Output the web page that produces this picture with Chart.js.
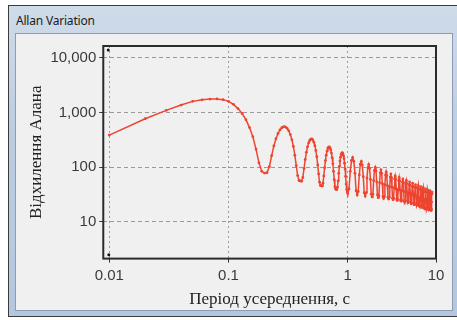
<!DOCTYPE html>
<html>
<head>
<meta charset="utf-8">
<script src="https://cdn.jsdelivr.net/npm/chart.js"></script>
<style>
  body { margin: 0; background: #fff; width: 457px; height: 320px; overflow: hidden; position: relative; }
  .win { position: absolute; left: 8px; top: 5px; width: 460px; height: 310px; border: 1px solid #3c3c3c;
         background: linear-gradient(180deg, #cfdbe9 0%, #bccde2 40%, #b4c7de 100%); }
  .caption { position: absolute; left: 16px; top: 12px; font: 12px "Noto Sans", sans-serif; color: #1b1b1b; letter-spacing: -0.2px; }
  .client { position: absolute; left: 15px; top: 33px; width: 436px; height: 276px; background: #f0f0f0; border: 1px solid #8c9db3; }
  #chart { position: absolute; left: 0; top: 0; }
</style>
</head>
<body>
<div class="win"></div>
<div class="caption">Allan Variation</div>
<div class="client"></div>
<canvas id="chart" width="457" height="320"></canvas>
<script>
  // період усереднення (c) -> відхилення Алана
  const tauFine = [
    0.01, 0.02, 0.03, 0.04, 0.05, 0.06, 0.07, 0.08, 0.09, 0.10,
    0.11, 0.12, 0.13, 0.14, 0.15, 0.16, 0.17, 0.18, 0.19, 0.20,
    0.21, 0.22, 0.23, 0.24, 0.25, 0.26, 0.27, 0.28, 0.29, 0.30,
    0.31, 0.32, 0.33, 0.34, 0.35, 0.36, 0.37, 0.38, 0.39, 0.40,
    0.41, 0.42, 0.43, 0.44, 0.45, 0.46, 0.47, 0.48, 0.49, 0.50,
    0.51, 0.52, 0.53, 0.54, 0.55, 0.56, 0.57, 0.58, 0.59, 0.60,
    0.61, 0.62, 0.63, 0.64, 0.65, 0.66, 0.67, 0.68, 0.69, 0.70,
    0.71, 0.72, 0.73, 0.74, 0.75, 0.76, 0.77, 0.78, 0.79, 0.80,
    0.81, 0.82, 0.83, 0.84, 0.85, 0.86, 0.87, 0.88, 0.89, 0.90,
    0.91, 0.92, 0.93, 0.94, 0.95, 0.96, 0.97, 0.98, 0.99, 1.00
  ];
  const devFine = [
    386, 770, 1095, 1370, 1600, 1710, 1760, 1770, 1720, 1600,
    1410, 1180, 960, 740, 530, 360, 214, 120, 84, 78,
    79, 102, 162, 244, 331, 414, 481, 527, 549, 544,
    514, 462, 395, 317, 239, 166, 107, 70, 57, 56,
    55, 65, 94, 138, 187, 236, 278, 309, 326, 328,
    314, 286, 247, 202, 155, 110, 75, 53, 46, 46,
    45, 51, 69, 98, 132, 166, 197, 220, 233, 235,
    226, 208, 181, 149, 115, 84, 59, 44, 40, 39,
    39, 43, 56, 77, 103, 129, 152, 171, 181, 184,
    178, 163, 143, 118, 93, 68, 49, 39, 35, 33
  ];
  const tauCoarse = [
    1.025, 1.05, 1.075, 1.1, 1.125, 1.15, 1.175, 1.2,
    1.225, 1.25, 1.275, 1.3, 1.325, 1.35, 1.375, 1.4,
    1.425, 1.45, 1.475, 1.5, 1.525, 1.55, 1.575, 1.6,
    1.625, 1.65, 1.675, 1.7, 1.725, 1.75, 1.775, 1.8,
    1.825, 1.85, 1.875, 1.9, 1.925, 1.95, 1.975, 2.0,
    2.025, 2.05, 2.075, 2.1, 2.125, 2.15, 2.175, 2.2,
    2.225, 2.25, 2.275, 2.3, 2.325, 2.35, 2.375, 2.4,
    2.425, 2.45, 2.475, 2.5, 2.525, 2.55, 2.575, 2.6,
    2.625, 2.65, 2.675, 2.7, 2.725, 2.75, 2.775, 2.8,
    2.825, 2.85, 2.875, 2.9, 2.925, 2.95, 2.975, 3.0,
    3.025, 3.05, 3.075, 3.1, 3.125, 3.15, 3.175, 3.2,
    3.225, 3.25, 3.275, 3.3, 3.325, 3.35, 3.375, 3.4,
    3.425, 3.45, 3.475, 3.5, 3.525, 3.55, 3.575, 3.6,
    3.625, 3.65, 3.675, 3.7, 3.725, 3.75, 3.775, 3.8,
    3.825, 3.85, 3.875, 3.9, 3.925, 3.95, 3.975, 4.0,
    4.025, 4.05, 4.075, 4.1, 4.125, 4.15, 4.175, 4.2,
    4.225, 4.25, 4.275, 4.3, 4.325, 4.35, 4.375, 4.4,
    4.425, 4.45, 4.475, 4.5, 4.525, 4.55, 4.575, 4.6,
    4.625, 4.65, 4.675, 4.7, 4.725, 4.75, 4.775, 4.8,
    4.825, 4.85, 4.875, 4.9, 4.925, 4.95, 4.975, 5.0,
    5.025, 5.05, 5.075, 5.1
  ];
  const devCoarse = [
    40, 84, 133, 151, 127, 77, 37, 31,
    36, 72, 113, 128, 109, 67, 34, 29.5,
    34, 63, 98, 112, 95, 60, 32, 28.5,
    32, 57, 87, 99, 85, 54, 31, 27.6,
    30, 52, 79, 90, 77, 50, 29, 26.8,
    29, 48, 72, 82, 70, 46, 28, 26.2,
    28, 44, 66, 75, 65, 43, 27, 25.4,
    27, 42, 61, 69, 60, 40, 26, 24.6,
    26, 39, 57, 65, 56, 38, 25, 23.8,
    25, 37, 54, 61, 53, 36, 24, 23,
    24, 35, 50, 57, 50, 34, 24, 22.2,
    23, 33, 48, 54, 47, 32, 23, 21.4,
    22, 32, 45, 51, 44, 31, 22, 20.6,
    22, 30, 43, 48, 42, 29, 21, 19.8,
    21, 29, 41, 46, 40, 28, 20, 19,
    20, 27, 39, 44, 38, 27, 19, 18.2,
    19, 26, 37, 42, 37, 26, 18, 17.4,
    18, 25, 35, 40, 35, 25, 18, 16.9,
    18, 24, 34, 38, 34, 24, 17, 16.5,
    17, 23, 33, 37, 32, 23, 17, 16.1,
    17, 23, 32, 35
  ];
  // дві чорні точки в кутах поля графіка
  const cornerTau = [0.0098, 0.0099];
  const cornerDev = [14000, 2.5];

  const xTickValues = [0.01, 0.1, 1];
  const xTickLabels = ['0.01', '0.1', '1', '10'];
  const yTickValues = [10, 100, 1000, 10000];
  const yTickLabels = ['10', '100', '1,000', '10,000'];

  const xMin = 0.0089, xMax = 5.5;
  const yMin = 2.12, yMax = 16500;

  const tau = tauFine.concat(tauCoarse);
  const dev = devFine.concat(devCoarse);
  const points = tau.map((t, i) => ({ x: t, y: dev[i] }));
  const corners = cornerTau.map((t, i) => ({ x: t, y: cornerDev[i] }));

  const frame = {
    id: 'frame',
    beforeDatasetsDraw(chart) {
      const a = chart.chartArea, ctx = chart.ctx;
      ctx.save();
      ctx.strokeStyle = '#2b2b2b';
      ctx.lineWidth = 2;
      ctx.strokeRect(a.left, a.top, a.right - a.left, a.bottom - a.top);
      ctx.restore();
    }
  };

  new Chart(document.getElementById('chart'), {
    type: 'scatter',
    data: {
      datasets: [{
        data: points,
        showLine: true,
        borderColor: '#ee4430',
        backgroundColor: '#ee4430',
        borderWidth: 1.5,
        pointRadius: 1.4,
        pointBorderWidth: 0,
        tension: 0
      }, {
        data: corners,
        showLine: false,
        pointRadius: 1.5,
        pointBorderWidth: 0,
        backgroundColor: '#111'
      }]
    },
    options: {
      responsive: false,
      animation: false,
      devicePixelRatio: 1,
      layout: { padding: { left: 26, right: 21, top: 46, bottom: 10 } },
      plugins: { legend: { display: false }, tooltip: { enabled: false } },
      scales: {
        x: {
          type: 'logarithmic',
          min: xMin,
          max: xMax,
          afterBuildTicks: s => { s.ticks = xTickValues.concat([xMax]).map(v => ({ value: v })); },
          ticks: {
            autoSkip: false,
            maxRotation: 0,
            padding: 6,
            color: '#3a3a3a',
            font: { family: 'Liberation Sans', size: 15, lineHeight: 1 },
            callback: (v, i) => xTickLabels[i]
          },
          grid: { color: '#9a9a9a', tickLength: 4, tickColor: '#333', tickBorderDash: [] },
          border: { display: false, dash: [2, 3] },
          title: {
            display: true,
            text: 'Період усереднення, с',
            color: '#222',
            font: { family: 'Liberation Serif', size: 17 },
            padding: { top: 0, bottom: 0 }
          }
        },
        y: {
          type: 'logarithmic',
          min: yMin,
          max: yMax,
          afterBuildTicks: s => { s.ticks = yTickValues.map(v => ({ value: v })); },
          ticks: {
            autoSkip: false,
            padding: 3,
            color: '#3a3a3a',
            font: { family: 'Liberation Sans', size: 15 },
            callback: (v, i) => yTickLabels[i]
          },
          grid: { color: '#9a9a9a', tickLength: 4, tickColor: '#333', tickBorderDash: [] },
          border: { display: false, dash: [4, 3] },
          title: {
            display: true,
            text: 'Відхилення Алана',
            color: '#222',
            font: { family: 'Liberation Serif', size: 17 },
            padding: { top: 0, bottom: 1 }
          }
        }
      }
    },
    plugins: [frame]
  });
</script>
</body>
</html>
